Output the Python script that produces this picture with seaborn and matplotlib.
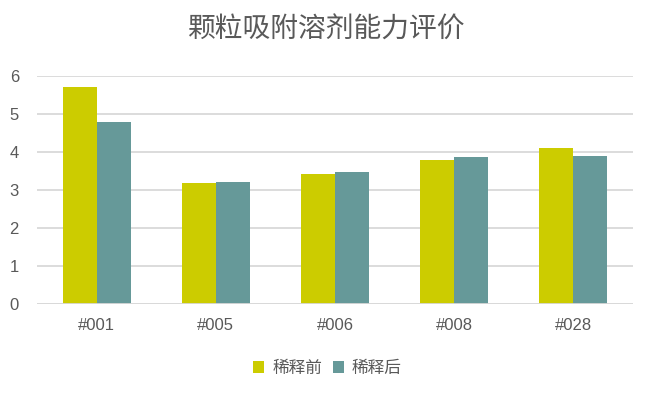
import matplotlib
matplotlib.use("Agg")
import matplotlib.pyplot as plt
import pandas as pd
import seaborn as sns

# data
samples = ["#001", "#005", "#006", "#008", "#028"]
before = [5.70, 3.18, 3.41, 3.78, 4.10]
after = [4.78, 3.20, 3.46, 3.86, 3.89]
series_names = ["稀释前", "稀释后"]
yticks = [0, 1, 2, 3, 4, 5, 6]

df = pd.DataFrame(
    dict(
        sample=samples * 2,
        value=before + after,
        series=[series_names[0]] * len(samples) + [series_names[1]] * len(samples),
    )
)

sns.set_theme(style="white")
plt.rcParams["font.family"] = ["Liberation Sans", "Noto Sans CJK SC", "DejaVu Sans"]

text_color = "#595959"
grid_color = "#D9D9D9"
palette = ["#CCCC00", "#669999"]

fig = plt.figure(figsize=(6.55, 3.98), dpi=100)
ax = fig.add_axes([0.0565, 0.2369, 0.9099, 0.5729])

sns.barplot(
    data=df,
    x="sample",
    y="value",
    hue="series",
    palette=palette,
    width=0.57,
    gap=0,
    saturation=1,
    linewidth=0,
    edgecolor="none",
    ax=ax,
    legend=False,
    zorder=3,
)

ax.set_ylim(0, 6)
ax.set_yticks(yticks)
ax.set_xlim(-0.5, len(samples) - 0.5)
ax.yaxis.grid(True, color=grid_color, linewidth=1.3, zorder=0)
ax.set_axisbelow(True)
for side in ["top", "right", "left", "bottom"]:
    ax.spines[side].set_visible(False)
ax.axhline(0, color=grid_color, linewidth=1.3, zorder=4)
ax.set_xlabel("")
ax.set_ylabel("")
ax.tick_params(axis="both", length=0, labelsize=12, labelcolor=text_color)
ax.tick_params(axis="y", pad=13)
ax.tick_params(axis="x", pad=10)

fig.text(0.4985, 0.922, "颗粒吸附溶剂能力评价", ha="center", va="center",
         fontsize=20, color=text_color)

handles = [plt.Rectangle((0, 0), 1, 1, color=c, linewidth=0) for c in palette]
fig.legend(
    handles,
    series_names,
    loc="center",
    bbox_to_anchor=(0.5, 0.075),
    ncol=2,
    frameon=False,
    fontsize=12,
    labelcolor=text_color,
    handlelength=0.66,
    handleheight=0.66,
    handletextpad=0.48,
    columnspacing=0.64,
)

fig.savefig("out.png", dpi=100)
